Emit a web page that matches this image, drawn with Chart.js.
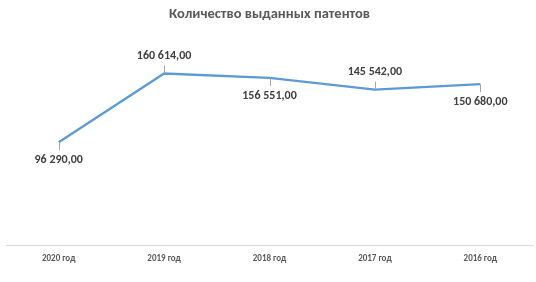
<!DOCTYPE html>
<html>
<head>
<meta charset="utf-8">
<script src="https://cdn.jsdelivr.net/npm/chart.js"></script>
<style>
  body { margin: 0; background: #fff; }
  #patentsChart { display: block; }
</style>
</head>
<body>
<canvas id="patentsChart" width="536" height="282"></canvas>
<script>
// Данные графика
const years = ['2020 год', '2019 год', '2018 год', '2017 год', '2016 год'];
const patents = [96290, 160614, 156551, 145542, 150680];
// где стоит подпись у каждой точки
const labelSide = ['below', 'above', 'below', 'above', 'below'];

function formatRu(v) {
    const parts = v.toFixed(2).split('.');
    const intPart = parts[0].replace(/\B(?=(\d{3})+(?!\d))/g, ' ');
    return intPart + ',' + parts[1];
}

// Подписи значений с выносными линиями
const valueLabels = {
    id: 'valueLabels',
    afterDatasetsDraw(chart) {
        const ctx = chart.ctx;
        const meta = chart.getDatasetMeta(0);
        ctx.save();
        ctx.font = 'bold 12px Calibri, "Open Sans", "Noto Sans", sans-serif';
        ctx.textAlign = 'center';
        ctx.textBaseline = 'middle';
        meta.data.forEach(function (pt, i) {
            const dir = labelSide[i] === 'above' ? -1 : 1;
            ctx.strokeStyle = '#a6a6a6';
            ctx.lineWidth = 1;
            ctx.beginPath();
            ctx.moveTo(Math.round(pt.x) + 0.5, pt.y);
            ctx.lineTo(Math.round(pt.x) + 0.5, pt.y + dir * 8);
            ctx.stroke();
            ctx.fillStyle = '#404040';
            ctx.fillText(formatRu(patents[i]), pt.x, pt.y + dir * 18);
        });
        ctx.restore();
    }
};

const ctx = document.getElementById('patentsChart').getContext('2d');

new Chart(ctx, {
    type: 'line',
    data: {
        labels: years,
        datasets: [{
            label: 'Количество выданных патентов',
            data: patents,
            borderColor: '#5b9bd5',
            borderWidth: 2.25,
            pointRadius: 0,
            tension: 0,
            fill: false
        }]
    },
    options: {
        responsive: false,
        animation: false,
        layout: {
            padding: { left: 6, right: 3, bottom: 10 }
        },
        plugins: {
            legend: { display: false },
            tooltip: { enabled: false },
            title: {
                display: true,
                text: 'Количество выданных патентов',
                color: '#595959',
                font: { size: 14.5, weight: 'bold', family: 'Calibri, "Open Sans", "Noto Sans", sans-serif' },
                padding: { top: 6, bottom: 8 }
            }
        },
        scales: {
            x: {
                offset: true,
                grid: { display: false, drawTicks: false },
                border: { display: true, color: '#d9d9d9', width: 1 },
                ticks: {
                    color: '#595959',
                    padding: 8,
                    font: { size: 9, weight: 'bold', family: 'Calibri, "Open Sans", "Noto Sans", sans-serif' }
                }
            },
            y: {
                display: false,
                min: 0,
                max: 200000
            }
        }
    },
    plugins: [valueLabels]
});
</script>
</body>
</html>
